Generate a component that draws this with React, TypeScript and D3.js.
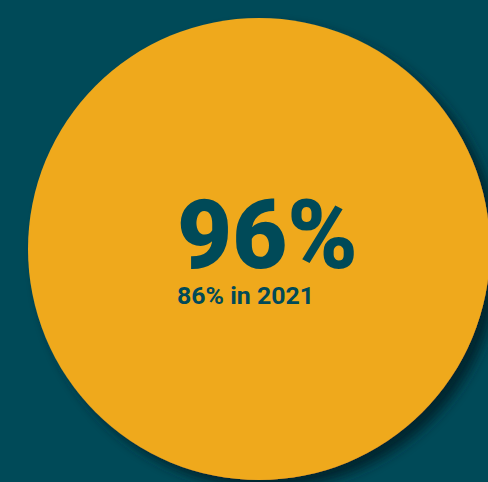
import { useEffect, useRef } from "react";
import * as d3 from "d3";

const CURRENT_VALUE = [96];
const PREVIOUS = [{ year: 2021, value: 86 }];

const BG = "#004a58";
const ORANGE = "#efa91f";
const INK = "#004a58";

export default function App() {
  const svgRef = useRef<SVGSVGElement>(null);

  useEffect(() => {
    if (!svgRef.current) return;
    const svg = d3.select(svgRef.current);
    svg.selectAll("*").remove();

    const width = 488;
    const height = 482;
    const cx = 259;
    const cy = 249;
    const r = 231;

    svg.attr("width", width).attr("height", height);

    const defs = svg.append("defs");
    const f = defs
      .append("filter")
      .attr("id", "shadow")
      .attr("x", "-20%")
      .attr("y", "-20%")
      .attr("width", "140%")
      .attr("height", "140%");
    f.append("feDropShadow")
      .attr("dx", 9)
      .attr("dy", 8)
      .attr("stdDeviation", 6)
      .attr("flood-color", "#06242a")
      .attr("flood-opacity", 0.95);

    svg.append("rect").attr("width", width).attr("height", height).attr("fill", BG);

    const arc = d3
      .arc<any>()
      .innerRadius(0)
      .outerRadius(r);

    const pie = d3.pie<number>().sort(null)(CURRENT_VALUE.map(() => 1));

    const g = svg.append("g").attr("transform", `translate(${cx},${cy})`);
    g.selectAll("path")
      .data(pie)
      .enter()
      .append("path")
      .attr("d", arc)
      .attr("fill", ORANGE)
      .attr("filter", "url(#shadow)");

    svg
      .append("text")
      .attr("x", 177)
      .attr("y", 268)
      .attr("font-family", "Roboto, 'DejaVu Sans', sans-serif")
      .attr("font-weight", 900)
      .attr("font-size", 96)
      .attr("fill", INK)
      .attr("textLength", 181)
      .attr("lengthAdjust", "spacingAndGlyphs")
      .text(`${CURRENT_VALUE[0]}%`);

    svg
      .append("text")
      .attr("x", 177)
      .attr("y", 304)
      .attr("font-family", "Roboto, 'DejaVu Sans', sans-serif")
      .attr("font-weight", 700)
      .attr("font-size", 24)
      .attr("fill", INK)
      .attr("textLength", 137)
      .attr("lengthAdjust", "spacingAndGlyphs")
      .text(`${PREVIOUS[0].value}% in ${PREVIOUS[0].year}`);
  }, []);

  return (
    <div style={{ position: "fixed", left: 0, top: 0, width: 488, height: 482, background: BG }}>
      <svg ref={svgRef} style={{ display: "block" }}></svg>
    </div>
  );
}
